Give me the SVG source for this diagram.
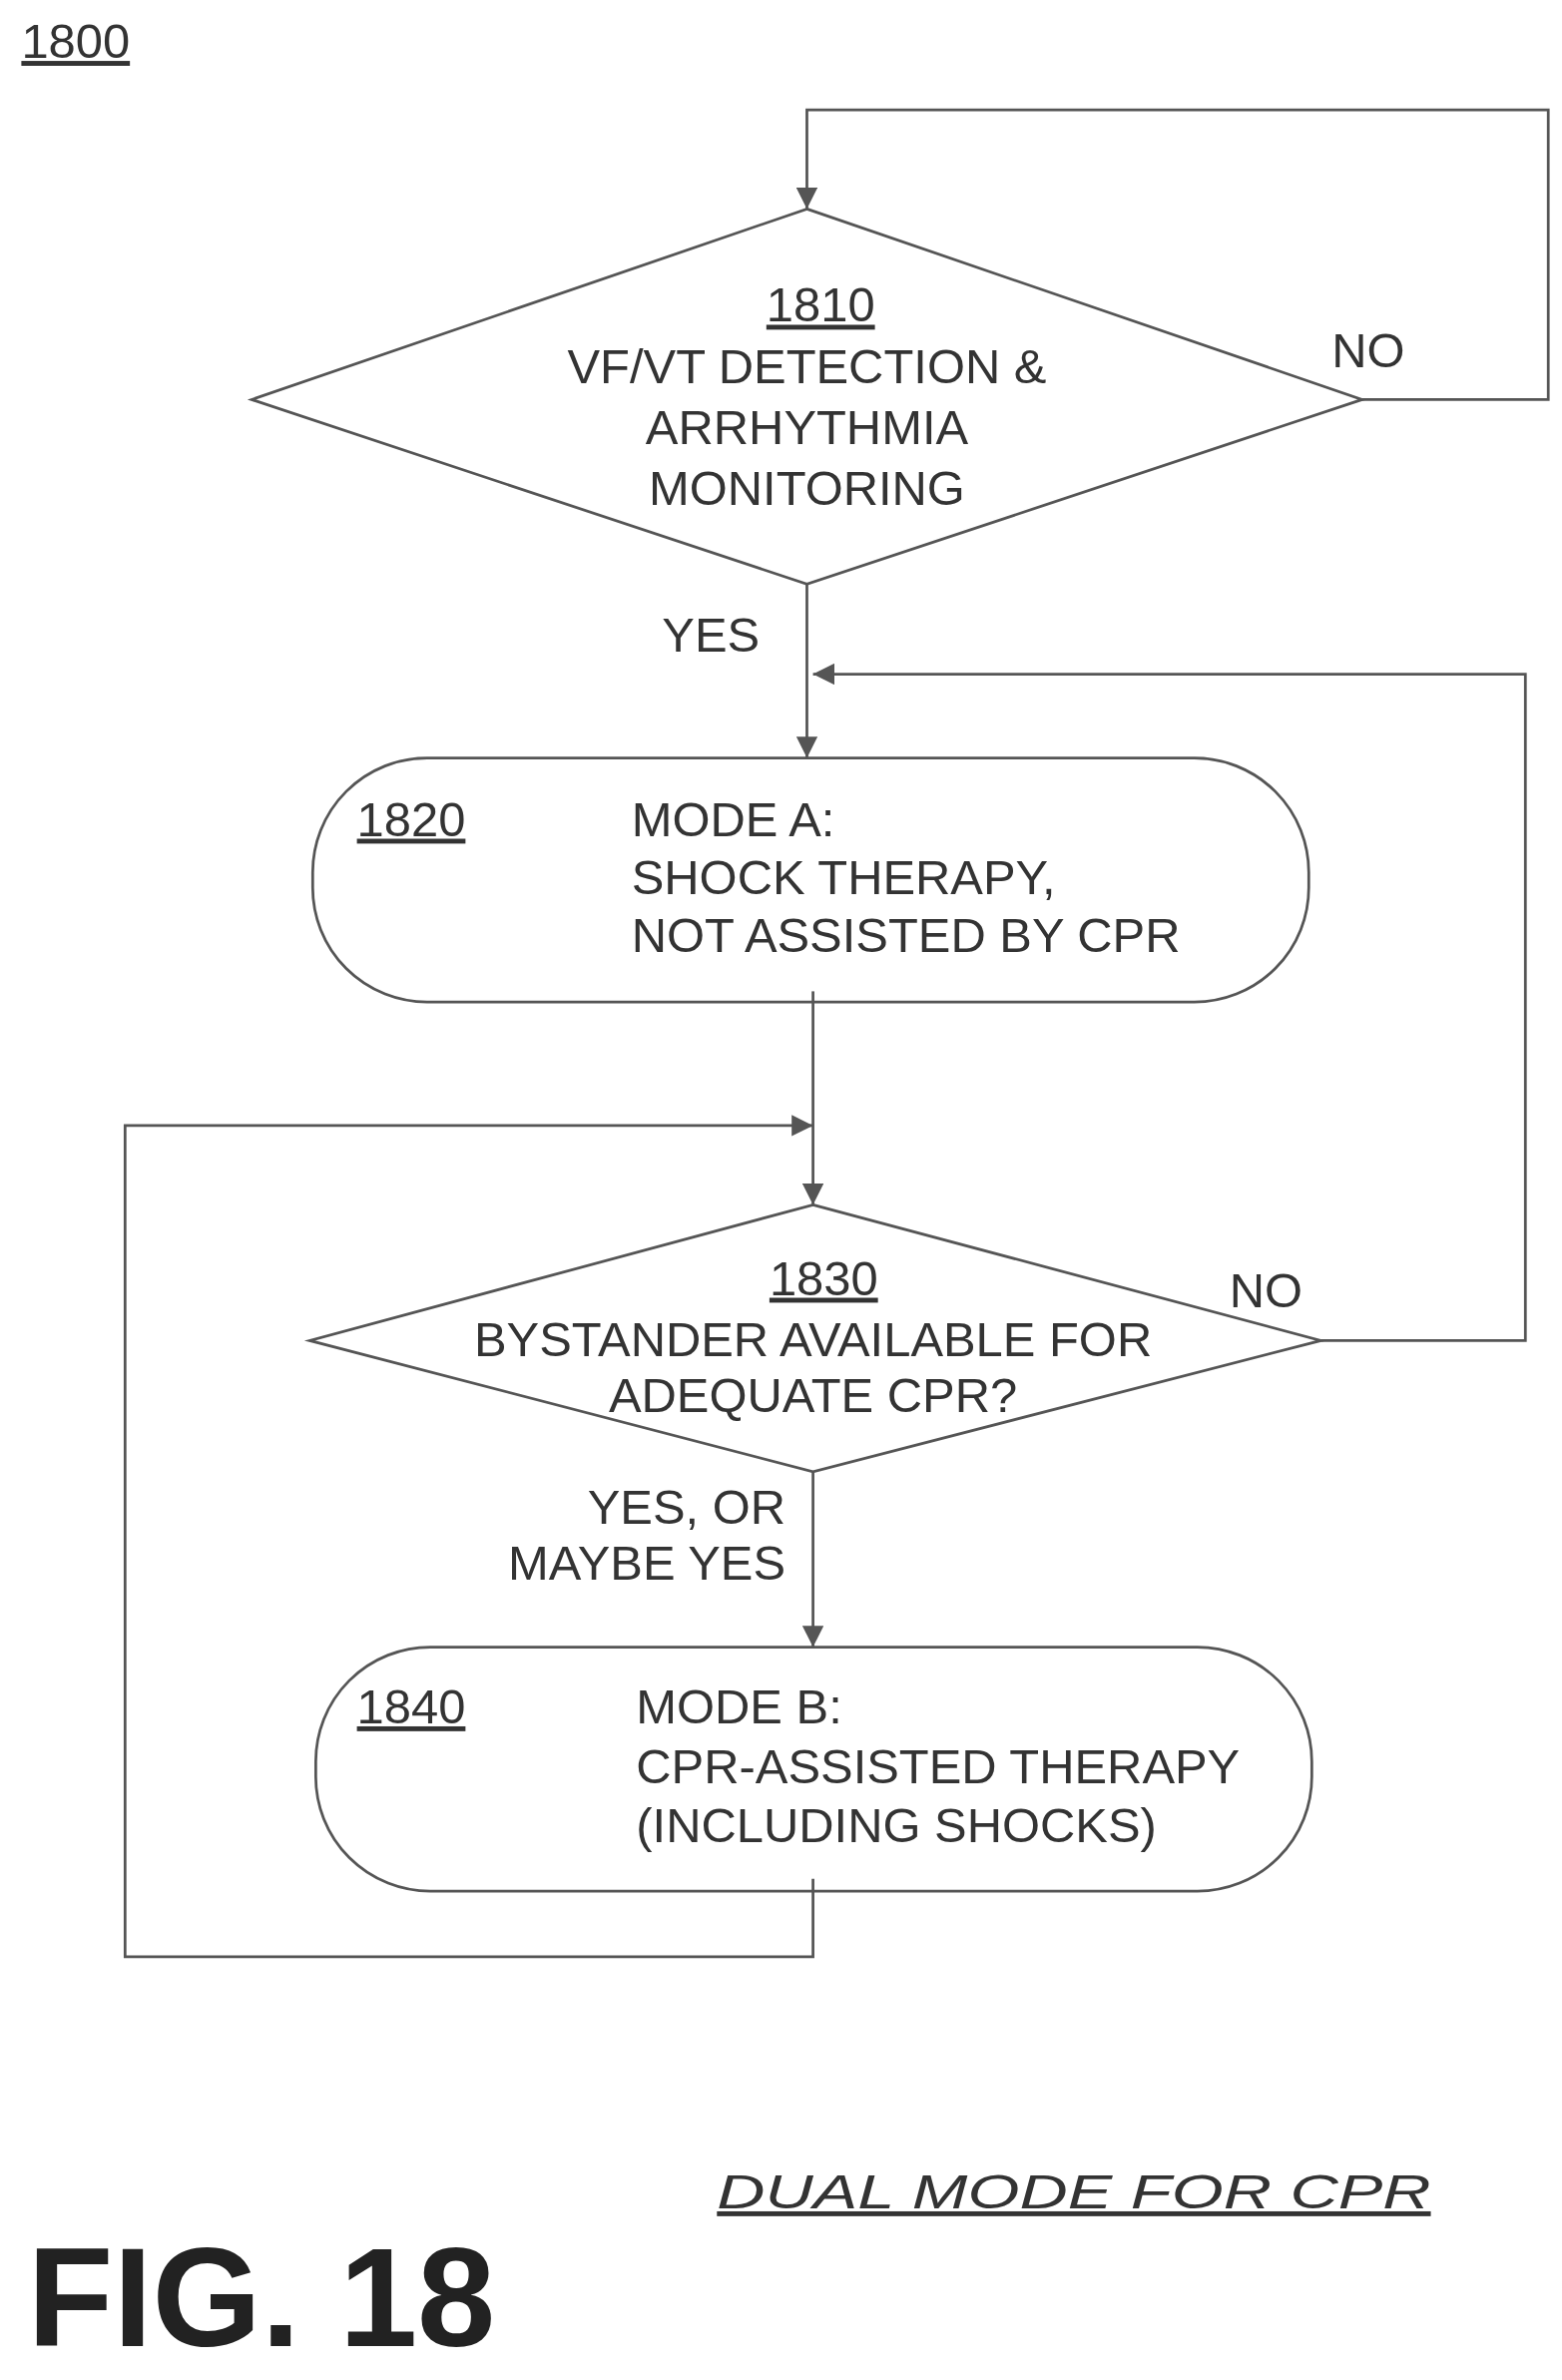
<svg xmlns="http://www.w3.org/2000/svg" width="1565" height="2385" viewBox="0 0 1565 2385">
<defs>
<marker id="ah" viewBox="0 0 10 10" refX="10" refY="5" markerWidth="14" markerHeight="14" markerUnits="userSpaceOnUse" orient="auto"><path d="M0,0 L10,5 L0,10 z" fill="#555"/></marker>
<style>
.s{fill:none;stroke:#555;stroke-width:1.8}
.t{font-family:"Liberation Sans",Arial,sans-serif;font-size:32px;fill:#333}
.c{text-anchor:middle}
.u{text-decoration:underline}
</style>
</defs>
<rect width="1565" height="2385" fill="#fff"/>
<g transform="scale(1.5283)">
<text class="t u" x="14" y="38" font-size="28">1800</text>
<g id="connectors">
<path class="s" d="M893,262 H1015 V72 H529 V137" marker-end="url(#ah)"/>
<path class="s" d="M529,383 V497" marker-end="url(#ah)"/>
<path class="s" d="M866,879 H1000 V442 H533" marker-end="url(#ah)"/>
<path class="s" d="M533,650 V790" marker-end="url(#ah)"/>
<path class="s" d="M533,1232 V1283 H82 V738 H533" marker-end="url(#ah)"/>
<path class="s" d="M533,965 V1080" marker-end="url(#ah)"/>
</g>
<g id="n1810">
<polygon class="s" points="529,137 893,262 529,383 165,262"/>
<text class="t c u" x="538" y="211">1810</text>
<text class="t c" x="529" y="251">VF/VT DETECTION &amp;</text>
<text class="t c" x="529" y="291">ARRHYTHMIA</text>
<text class="t c" x="529" y="331">MONITORING</text>
<text class="t" x="873" y="241">NO</text>
<text class="t" x="434" y="427">YES</text>
</g>
<g id="n1820">
<rect class="s" x="205" y="497" width="653" height="160" rx="75"/>
<text class="t u" x="234" y="548">1820</text>
<text class="t" x="414" y="548">MODE A:</text>
<text class="t" x="414" y="586">SHOCK THERAPY,</text>
<text class="t" x="414" y="624">NOT ASSISTED BY CPR</text>
</g>
<g id="n1830">
<polygon class="s" points="533,790 866,879 533,965 203,879"/>
<text class="t c u" x="540" y="849">1830</text>
<text class="t c" x="533" y="889">BYSTANDER AVAILABLE FOR</text>
<text class="t c" x="533" y="926">ADEQUATE CPR?</text>
<text class="t" x="806" y="857">NO</text>
<text class="t" x="515" y="999" text-anchor="end">YES, OR</text>
<text class="t" x="515" y="1036" text-anchor="end">MAYBE YES</text>
</g>
<g id="n1840">
<rect class="s" x="207" y="1080" width="653" height="160" rx="75"/>
<text class="t u" x="234" y="1130">1840</text>
<text class="t" x="417" y="1130">MODE B:</text>
<text class="t" x="417" y="1169">CPR-ASSISTED THERAPY</text>
<text class="t" x="417" y="1208">(INCLUDING SHOCKS)</text>
</g>
<text class="t u" x="470" y="1448" font-size="40" font-style="italic" textLength="468" lengthAdjust="spacingAndGlyphs">DUAL MODE FOR CPR</text>
<text x="18" y="1538" font-family="Liberation Sans,Arial,sans-serif" font-weight="bold" font-size="92" fill="#222">FIG. 18</text>
</g>
</svg>
